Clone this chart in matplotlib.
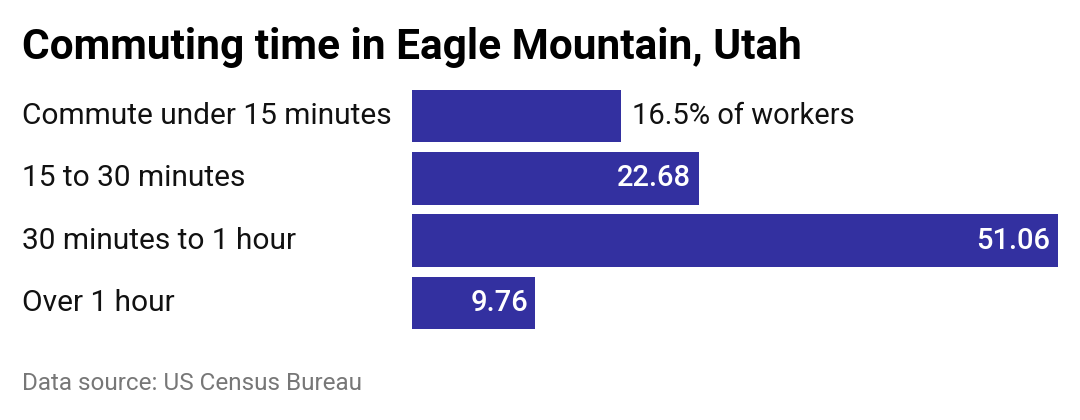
import matplotlib
matplotlib.use("Agg")
import matplotlib.pyplot as plt

categories = ["Commute under 15 minutes", "15 to 30 minutes", "30 minutes to 1 hour", "Over 1 hour"]
values = [16.5, 22.68, 51.06, 9.76]
value_labels = ["16.5% of workers", "22.68", "51.06", "9.76"]

plt.rcParams['font.family'] = ['Roboto', 'DejaVu Sans']
fig = plt.figure(figsize=(10.8, 4.2), dpi=100)
ax = fig.add_axes([412/1080, 1-329/420, 646/1080, 239/420])
ypos = list(range(len(values)))
ax.barh(ypos, values, height=0.84, color="#3330a0")
ax.set_xlim(0, max(values))
ax.set_ylim(3.42, -0.42)
ax.axis("off")
for i, (v, lab) in enumerate(zip(values, value_labels)):
    if i == 0:
        ax.text(v + 0.9, i, lab, va="center", ha="left", fontsize=21, color="#111")
    else:
        ax.text(v - 0.6, i, lab, va="center", ha="right", fontsize=21, color="white", fontweight="medium")
for i, c in enumerate(categories):
    ax.text(-390/646*max(values), i, c, va="center", ha="left", fontsize=21.5, color="#111", clip_on=False)
fig.text(22/1080, 1-47/420, "Commuting time in Eagle Mountain, Utah", fontsize=30.5, fontweight="bold", va="center", ha="left", color="#000")
fig.text(22/1080, 1-384/420, "Data source: US Census Bureau", fontsize=17.5, color="#777", va="center", ha="left")
fig.savefig("out.png", dpi=100)
